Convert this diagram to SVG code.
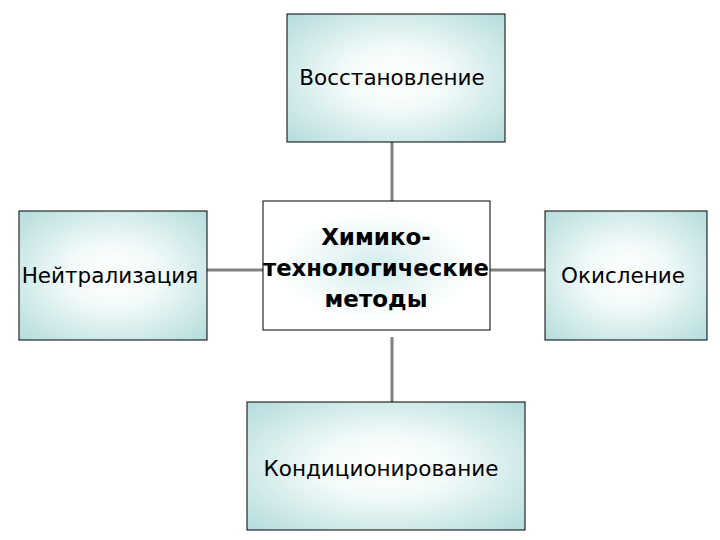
<svg xmlns="http://www.w3.org/2000/svg" width="720" height="540" viewBox="0 0 720 540">
<defs>
<radialGradient id="g" cx="50%" cy="50%" r="70%">
<stop offset="0" stop-color="#ffffff"/>
<stop offset="0.35" stop-color="#f2fafa"/>
<stop offset="1" stop-color="#b5dcdc"/>
</radialGradient>
<radialGradient id="c" cx="50%" cy="50%" r="50%">
<stop offset="0" stop-color="#d3ecee"/>
<stop offset="0.6" stop-color="#eef8f8"/>
<stop offset="1" stop-color="#ffffff"/>
</radialGradient>
</defs>
<style>
.b{fill:url(#g);stroke:#000;stroke-width:1}
.t{font-family:"DejaVu Sans",sans-serif;font-size:21.5px;fill:#000;text-anchor:middle}
.ct{font-family:"DejaVu Sans",sans-serif;font-size:23px;font-weight:bold;fill:#000;text-anchor:middle}
.l{stroke:#808080;stroke-width:3;fill:none}
</style>
<rect width="720" height="540" fill="#fff"/>
<g id="connectors">
<line class="l" x1="392" y1="142" x2="392" y2="201"/>
<line class="l" x1="392" y1="337" x2="392" y2="402"/>
<line class="l" x1="207" y1="270" x2="263" y2="270"/>
<line class="l" x1="490" y1="270" x2="545" y2="270"/>
</g>
<g id="top"><rect class="b" x="287" y="14" width="218" height="128"/><text class="t" x="392" y="85">Восстановление</text></g>
<g id="left"><rect class="b" x="19" y="211" width="188" height="129"/><text class="t" x="110" y="283">Нейтрализация</text></g>
<g id="right"><rect class="b" x="545" y="211" width="162" height="129"/><text class="t" x="623" y="283">Окисление</text></g>
<g id="bottom"><rect class="b" x="247" y="402" width="278" height="128"/><text class="t" x="381" y="476">Кондиционирование</text></g>
<g id="center"><rect x="263" y="201" width="227" height="129" fill="#fff" stroke="#000"/>
<ellipse cx="376" cy="266" rx="100" ry="55" fill="url(#c)"/>
<text class="ct" x="376" y="245">Химико-</text>
<text class="ct" x="376" y="276" textLength="226" lengthAdjust="spacingAndGlyphs">технологические</text>
<text class="ct" x="376" y="307">методы</text></g>
</svg>
